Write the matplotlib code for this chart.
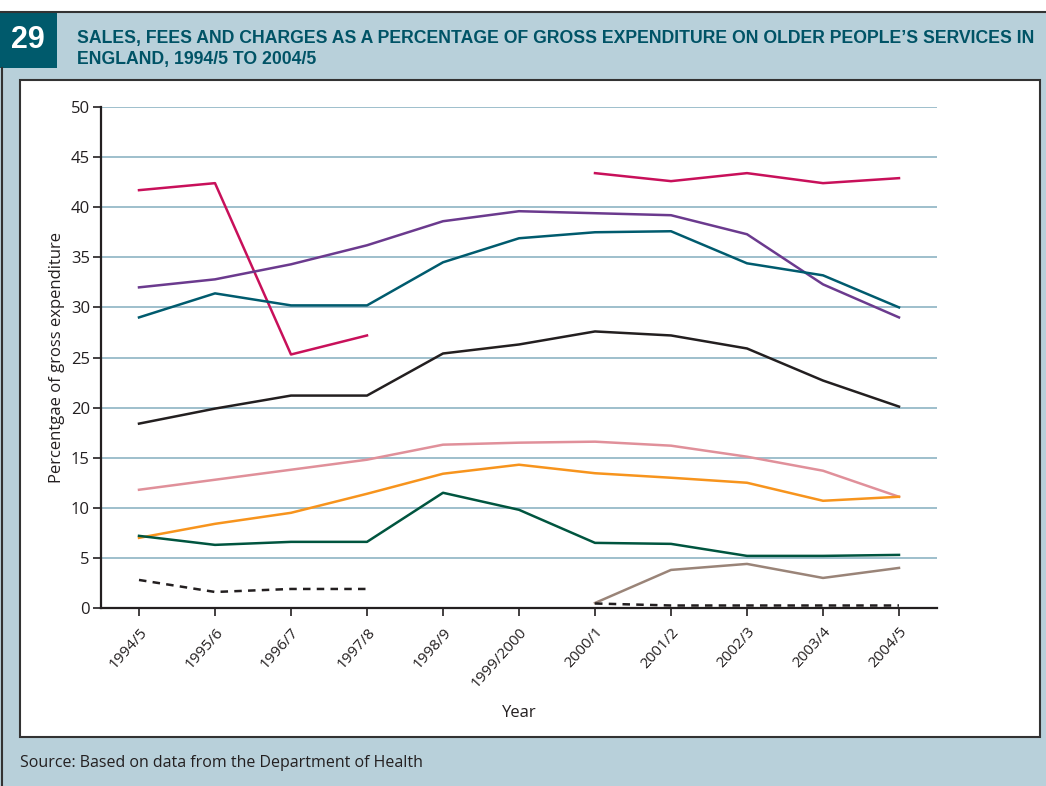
import matplotlib
matplotlib.use("Agg")
import matplotlib.pyplot as plt
from matplotlib.patches import Rectangle
import numpy as np

years = ["1994/5", "1995/6", "1996/7", "1997/8", "1998/9", "1999/2000",
         "2000/1", "2001/2", "2002/3", "2003/4", "2004/5"]
nan = np.nan
crimson = [41.7, 42.4, 25.3, 27.2, nan, nan, 43.4, 42.6, 43.4, 42.4, 42.9]
purple = [32.0, 32.8, 34.3, 36.2, 38.6, 39.6, 39.4, 39.2, 37.3, 32.3, 29.0]
teal = [29.0, 31.4, 30.2, 30.2, 34.5, 36.9, 37.5, 37.6, 34.4, 33.2, 30.0]
black = [18.4, 19.9, 21.2, 21.2, 25.4, 26.3, 27.6, 27.2, 25.9, 22.7, 20.1]
pink = [11.8, 12.8, 13.8, 14.8, 16.3, 16.5, 16.6, 16.2, 15.1, 13.7, 11.1]
orange = [7.0, 8.4, 9.5, 11.4, 13.4, 14.3, 13.45, 13.0, 12.5, 10.7, 11.1]
green = [7.2, 6.3, 6.6, 6.6, 11.5, 9.8, 6.5, 6.4, 5.2, 5.2, 5.3]
taupe = [nan, nan, nan, nan, nan, nan, 0.5, 3.8, 4.4, 3.0, 4.0]
dashed = [2.8, 1.6, 1.9, 1.9, nan, nan, 0.45, 0.25, 0.25, 0.25, 0.25]

title = ("SALES, FEES AND CHARGES AS A PERCENTAGE OF GROSS EXPENDITURE ON OLDER PEOPLE\u2019S SERVICES IN\n"
         "ENGLAND, 1994/5 TO 2004/5")
fig_num = "29"
source = "Source: Based on data from the Department of Health"

W, H = 1046, 786
fig = plt.figure(figsize=(W/100, H/100), dpi=100)
fig.patch.set_facecolor("white")

def fx(x): return x / W
def fy(y): return 1 - y / H

bg = "#B8D0DA"
fig.patches.append(Rectangle((0, 0), 1, fy(12), transform=fig.transFigure, facecolor=bg, edgecolor="none", zorder=0))
fig.add_artist(plt.Line2D([0, 1], [fy(12), fy(12)], transform=fig.transFigure, color="#333333", lw=1.5))
fig.add_artist(plt.Line2D([fx(2), fx(2)], [0, fy(68)], transform=fig.transFigure, color="#333333", lw=1.5))
fig.patches.append(Rectangle((0, fy(68)), fx(57), fy(12) - fy(68), transform=fig.transFigure,
                             facecolor="#005A6C", edgecolor="none", zorder=1))
fig.text(fx(28), fy(40), fig_num, color="white", fontsize=22, fontweight="bold",
         ha="center", va="center", family=["Liberation Sans", "DejaVu Sans"])
fig.text(fx(77), fy(49), title, color="#005366", fontsize=12.7, fontweight="bold",
         ha="left", va="center", linespacing=1.3, family=["Liberation Sans", "DejaVu Sans"])
fig.patches.append(Rectangle((fx(20), fy(737)), fx(1040) - fx(20), fy(80) - fy(737), transform=fig.transFigure,
                             facecolor="white", edgecolor="#333333", lw=1.5, zorder=1))
fig.text(fx(20), fy(763), source, color="#231F20", fontsize=11.5, ha="left", va="center",
         family=["Open Sans", "DejaVu Sans"])

ax = fig.add_axes([fx(101), fy(608), fx(937) - fx(101), fy(107) - fy(608)])
ax.set_facecolor("none")
ax.set_zorder(2)
x = np.arange(len(years))
lw = 1.8
ax.plot(x, crimson, color="#C8105A", lw=lw)
ax.plot(x, purple, color="#6B3A8E", lw=lw)
ax.plot(x, teal, color="#005B6E", lw=lw)
ax.plot(x, black, color="#231F20", lw=lw)
ax.plot(x, pink, color="#E0909A", lw=lw)
ax.plot(x, orange, color="#F7941D", lw=lw)
ax.plot(x, green, color="#00553F", lw=lw)
ax.plot(x, taupe, color="#9A8478", lw=lw)
ax.plot(x, dashed, color="#231F20", lw=lw, linestyle=(0, (3, 2.5)))

ax.set_xlim(-0.5, 10.5)
ax.set_ylim(0, 50)
ax.set_yticks(np.arange(0, 51, 5))
ax.set_xticks(x)
ax.set_xticklabels(years, rotation=48, ha="right", rotation_mode="anchor",
                   family=["Open Sans", "DejaVu Sans"], fontsize=11, color="#231F20")
for lab in ax.get_yticklabels():
    lab.set_family(["Open Sans", "DejaVu Sans"])
    lab.set_fontsize(12)
    lab.set_color("#231F20")
ax.yaxis.grid(True, color="#8DB4C3", lw=1.2)
ax.set_axisbelow(True)
for s in ["top", "right"]:
    ax.spines[s].set_visible(False)
for s in ["left", "bottom"]:
    ax.spines[s].set_color("#231F20")
    ax.spines[s].set_linewidth(1.6)
ax.tick_params(axis="both", length=6, width=1.2, color="#231F20")
ax.tick_params(axis="y", pad=2)
ax.tick_params(axis="x", pad=6)
ax.set_ylabel("Percentgae of gross expenditure", fontsize=12, color="#231F20",
              family=["Open Sans", "DejaVu Sans"], labelpad=4)
ax.set_xlabel("Year", fontsize=12, color="#231F20", family=["Open Sans", "DejaVu Sans"], labelpad=10)

fig.savefig("out.png", dpi=100)
